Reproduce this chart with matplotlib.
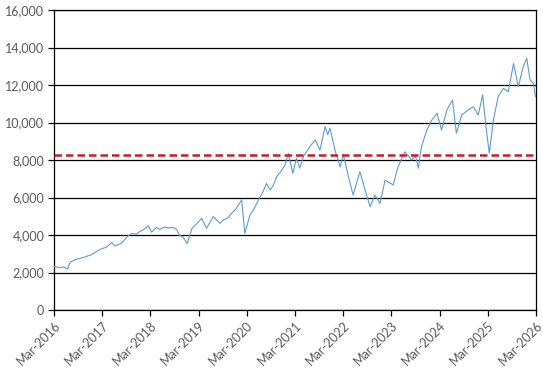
import matplotlib
matplotlib.use("Agg")
import matplotlib.pyplot as plt
import matplotlib.dates as mdates
import pandas as pd

# values
dates = ["2016-03-01", "2016-04-15", "2016-05-15", "2016-06-10", "2016-07-01",
         "2016-08-15", "2016-10-10", "2016-12-01", "2017-01-15", "2017-02-15",
         "2017-04-01", "2017-05-13", "2017-06-07", "2017-07-25", "2017-09-12",
         "2017-10-12", "2017-11-15", "2017-12-15", "2018-01-01", "2018-02-15",
         "2018-03-10", "2018-04-15", "2018-05-12", "2018-06-15", "2018-07-15",
         "2018-08-21", "2018-09-15", "2018-10-07", "2018-11-01", "2018-12-05",
         "2019-01-10", "2019-02-15", "2019-03-25", "2019-05-01", "2019-06-21",
         "2019-08-10", "2019-09-06", "2019-10-06", "2019-11-06", "2019-12-10",
         "2020-01-22", "2020-02-15", "2020-03-25", "2020-04-25", "2020-05-28",
         "2020-07-01", "2020-07-28", "2020-08-25", "2020-09-18", "2020-10-13",
         "2020-11-15", "2020-12-15", "2021-01-10", "2021-02-12", "2021-03-12",
         "2021-04-06", "2021-05-03", "2021-06-21", "2021-08-01", "2021-09-06",
         "2021-10-15", "2021-11-05", "2021-11-21", "2022-01-01", "2022-02-06",
         "2022-03-03", "2022-04-10", "2022-05-15", "2022-07-06", "2022-08-25",
         "2022-09-21", "2022-10-27", "2022-12-06", "2023-01-12", "2023-03-15",
         "2023-04-21", "2023-06-12", "2023-08-01", "2023-09-01", "2023-09-21",
         "2023-10-15", "2023-11-25", "2024-01-01", "2024-02-10", "2024-03-15",
         "2024-04-25", "2024-06-06", "2024-07-06", "2024-08-15", "2024-10-03",
         "2024-11-12", "2024-12-18", "2025-01-21", "2025-02-15", "2025-03-12",
         "2025-04-12", "2025-05-18", "2025-06-27", "2025-08-03", "2025-09-12",
         "2025-10-18", "2025-11-24", "2025-12-21", "2026-01-15", "2026-02-09",
         "2026-02-25"]
values = [2330, 2250, 2300, 2180, 2550,
          2700, 2800, 2930, 3100, 3240,
          3350, 3590, 3420, 3560, 3950,
          4080, 4050, 4200, 4250, 4480,
          4150, 4400, 4300, 4420, 4380,
          4400, 4300, 4000, 3900, 3550,
          4350, 4600, 4890, 4360, 4980,
          4620, 4800, 4900, 5150, 5400,
          5870, 4090, 5070, 5400, 5870,
          6300, 6750, 6400, 6650, 7110,
          7400, 7730, 8350, 7290, 8090,
          7560, 8180, 8710, 9070, 8530,
          9780, 9350, 9700, 8440, 7640,
          8270, 7110, 6130, 7380, 6130,
          5510, 6130, 5690, 6930, 6670,
          7640, 8440, 8000, 8200, 7560,
          8700, 9600, 10130, 10490, 9600,
          10670, 11200, 9420, 10400, 10670,
          10840, 10400, 11470, 9780, 8360,
          10130, 11380, 11820, 11640, 13150,
          11910, 12980, 13420, 12270, 12090,
          11380]
ref_level = 8270
year_ticks = ["2016-03-01", "2017-03-01", "2018-03-01", "2019-03-01", "2020-03-01",
              "2021-03-01", "2022-03-01", "2023-03-01", "2024-03-01", "2025-03-01",
              "2026-03-01"]

dates = pd.to_datetime(dates)
year_ticks = pd.to_datetime(year_ticks)

plt.rcParams['font.family'] = ['Lato', 'DejaVu Sans']

fig = plt.figure(figsize=(5.43, 3.74), dpi=100)
ax = fig.add_axes([54/543, 1 - 310/374, 482/543, 300/374])

ax.plot(dates, values, color="#5B9BD5", lw=0.8, zorder=3)
ax.axhline(ref_level, color="#C0202A", lw=1.8, ls=(0, (3, 1.6)), zorder=4)

ax.set_ylim(0, 16000)
ax.set_yticks(range(0, 16001, 2000))
ax.yaxis.set_major_formatter(matplotlib.ticker.FuncFormatter(lambda v, p: f"{int(v):,}"))
ax.grid(axis="y", color="black", lw=0.9)
ax.set_axisbelow(True)

ax.set_xlim(year_ticks[0], year_ticks[-1])
ax.set_xticks(year_ticks)
ax.xaxis.set_major_formatter(mdates.DateFormatter("%b-%Y"))
plt.setp(ax.get_xticklabels(), rotation=45, ha="right", rotation_mode="anchor")

for s in ax.spines.values():
    s.set_color("black")
    s.set_linewidth(0.9)
ax.tick_params(axis="both", colors="black", length=4, width=0.9,
               labelcolor="#595959", labelsize=9, pad=3)

fig.savefig("out.png", dpi=100)
